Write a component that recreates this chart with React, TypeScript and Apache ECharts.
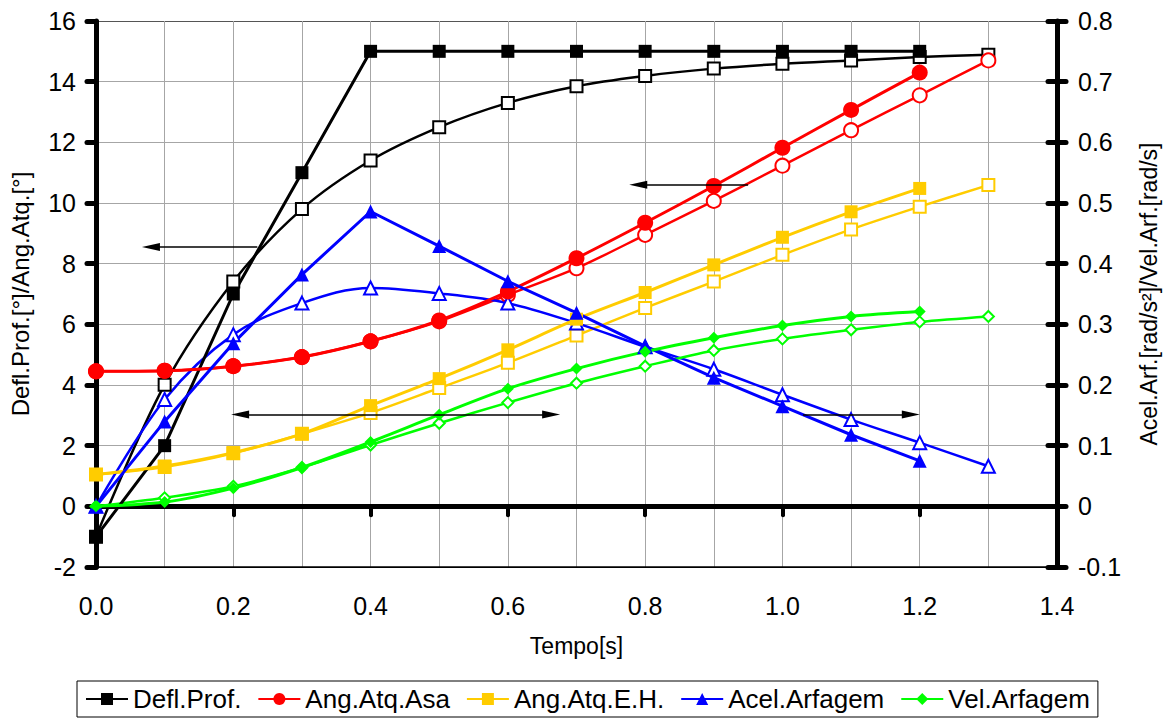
import React, { useEffect, useRef } from "react";
import * as echarts from "echarts";

// Time axis (s)
const time1 = [0, 0.1, 0.2, 0.3, 0.4, 0.5, 0.6, 0.7, 0.8, 0.9, 1.0, 1.1, 1.2];
const time2 = [0, 0.1, 0.2, 0.3, 0.4, 0.5, 0.6, 0.7, 0.8, 0.9, 1.0, 1.1, 1.2, 1.3];

// Case 1 (filled markers)
const deflProf1 = [-1, 2, 7, 11, 15, 15, 15, 15, 15, 15, 15, 15, 15];
const angAsa1 = [4.45, 4.47, 4.62, 4.92, 5.44, 6.13, 7.08, 8.18, 9.35, 10.56, 11.82, 13.07, 14.3];
const angEH1 = [1.05, 1.33, 1.77, 2.39, 3.32, 4.21, 5.16, 6.17, 7.05, 7.96, 8.87, 9.71, 10.48];
const acelArf1 = [0, 0.14, 0.269, 0.382, 0.486, 0.429, 0.371, 0.319, 0.264, 0.212, 0.165, 0.118, 0.075];
const velArf1 = [0, 0.007, 0.03, 0.064, 0.106, 0.151, 0.194, 0.227, 0.255, 0.278, 0.298, 0.313, 0.321];

// Case 2 (hollow markers)
const deflProf2 = [-1, 4.01, 7.41, 9.8, 11.4, 12.5, 13.3, 13.85, 14.19, 14.43, 14.59, 14.7, 14.81, 14.89];
const angAsa2 = [4.45, 4.47, 4.62, 4.92, 5.44, 6.1, 6.97, 7.85, 8.95, 10.07, 11.23, 12.4, 13.55, 14.7];
const angEH2 = [1.05, 1.3, 1.75, 2.39, 3.08, 3.9, 4.73, 5.63, 6.54, 7.41, 8.29, 9.13, 9.88, 10.59];
const acelArf2 = [0, 0.176, 0.283, 0.335, 0.36, 0.351, 0.335, 0.302, 0.263, 0.226, 0.184, 0.143, 0.105, 0.066];
const velArf2 = [0, 0.014, 0.033, 0.064, 0.101, 0.137, 0.171, 0.203, 0.231, 0.257, 0.276, 0.291, 0.304, 0.313];

const legendNames = ["Defl.Prof.", "Ang.Atq.Asa", "Ang.Atq.E.H.", "Acel.Arfagem", "Vel.Arfagem"];

// Annotation arrows in data coords of the left axis: [xFrom, xTo, y, both-heads]
const arrows: [number, number, number, boolean][] = [
  [0.235, 0.08, 8.55, false],
  [0.95, 0.79, 10.6, false],
  [0.21, 0.663, 3.03, true],
  [1.03, 1.187, 3.03, false],
];

const FONT = "Liberation Sans, Arial, sans-serif";

const pairs = (xs: number[], ys: number[]) => ys.map((y, i) => [xs[i], y]);

export default function App() {
  const ref = useRef<HTMLDivElement>(null);
  useEffect(() => {
    if (!ref.current) return;
    const chart = echarts.init(ref.current, undefined, { renderer: "svg" });

    const gridColor = "#a6a6a6";
    const ySplitColors = ["#000", gridColor, gridColor, gridColor, gridColor, gridColor, gridColor, gridColor, gridColor, "#555"];

    const mkSeries = (
      name: string,
      xs: number[],
      ys: number[],
      color: string,
      symbol: string,
      size: number,
      yIdx: number,
      smooth: boolean | number,
      hollow: boolean,
      extra: any = {}
    ) => ({
      type: "line",
      name,
      data: pairs(xs, ys),
      xAxisIndex: 0,
      yAxisIndex: yIdx,
      symbol: hollow ? "empty" + symbol[0].toUpperCase() + symbol.slice(1) : symbol,
      symbolSize: size,
      smooth,
      showSymbol: true,
      lineStyle: { color, width: hollow ? 2.5 : 3 },
      itemStyle: { color, borderColor: color, borderWidth: hollow ? 1.5 : 0 },
      emphasis: { disabled: true },
      ...extra,
    });

    const markLine = {
      silent: true,
      symbol: ["none", "none"],
      label: { show: false },
      lineStyle: { color: "#000", width: 1.5, type: "solid" },
      itemStyle: { color: "#000" },
      emphasis: { disabled: true },
      data: arrows.map(([x1, x2, y, both]) => [
        both
          ? { coord: [x1, y], symbol: "triangle", symbolSize: [8, 18] }
          : { coord: [x1, y], symbol: "none" },
        { coord: [x2, y], symbol: "triangle", symbolSize: [8, 18] },
      ]),
    };

    const series: any[] = [
      mkSeries("Defl.Prof. 2", time2, deflProf2, "#000000", "rect", 12, 0, 0.35, true, { markLine }),
      mkSeries("Ang.Atq.Asa 2", time2, angAsa2, "#ff0000", "circle", 14, 0, 0.3, true),
      mkSeries("Ang.Atq.E.H. 2", time2, angEH2, "#ffcc00", "rect", 12, 0, 0.3, true),
      mkSeries("Acel.Arfagem 2", time2, acelArf2, "#0000ff", "triangle", 13, 1, 0.35, true),
      mkSeries("Vel.Arfagem 2", time2, velArf2, "#00ff00", "diamond", 11, 1, 0.3, true),
      mkSeries("Defl.Prof.", time1, deflProf1, "#000000", "rect", 13, 0, false, false),
      mkSeries("Ang.Atq.Asa", time1, angAsa1, "#ff0000", "circle", 16, 0, 0.3, false),
      mkSeries("Ang.Atq.E.H.", time1, angEH1, "#ffcc00", "rect", 13, 0, 0.3, false),
      mkSeries("Acel.Arfagem", time1, acelArf1, "#0000ff", "triangle", 14, 1, false, false),
      mkSeries("Vel.Arfagem", time1, velArf1, "#00ff00", "diamond", 12, 1, 0.3, false),
    ];

    chart.setOption({
      animation: false,
      backgroundColor: "#ffffff",
      textStyle: { fontFamily: FONT },
      grid: { left: 96, right: 112, top: 21, bottom: 153, containLabel: false },
      legend: {
        data: legendNames,
        left: 77,
        top: 681,
        padding: [5, 8],
        itemGap: 16,
        itemWidth: 42,
        itemHeight: 15,
        borderColor: "#000",
        borderWidth: 1,
        textStyle: { fontSize: 26, color: "#000", fontFamily: FONT },
        selectedMode: false,
      },
      xAxis: [
        {
          type: "value",
          min: 0,
          max: 1.4,
          interval: 0.2,
          position: "bottom",
          axisLine: { show: true, onZero: true, onZeroAxisIndex: 0, lineStyle: { color: "#000", width: 5 } },
          axisTick: { show: true, inside: false, length: 9, lineStyle: { color: "#000", width: 4, cap: "round" } },
          axisLabel: { show: false },
          splitLine: { show: false },
        },
        {
          type: "value",
          min: 0,
          max: 1.4,
          interval: 0.2,
          position: "bottom",
          name: "Tempo[s]",
          nameLocation: "middle",
          nameGap: 67,
          nameTextStyle: { fontSize: 23, color: "#000", fontFamily: FONT },
          axisLine: { show: true, onZero: false, lineStyle: { color: "#000", width: 1.5 } },
          axisTick: { show: false },
          axisLabel: {
            show: true,
            margin: 26,
            fontSize: 25,
            color: "#000",
            fontFamily: FONT,
            formatter: (v: number) => v.toFixed(1),
          },
          splitLine: { show: true, lineStyle: { color: gridColor, width: 1 } },
          minorTick: { show: false, splitNumber: 2 },
          minorSplitLine: { show: true, lineStyle: { color: gridColor, width: 1 } },
        },
      ],
      yAxis: [
        {
          type: "value",
          min: -2,
          max: 16,
          interval: 2,
          position: "left",
          name: "Defl.Prof.[°]/Ang.Atq.[°]",
          nameLocation: "middle",
          nameRotate: 90,
          nameGap: 64,
          nameTextStyle: { fontSize: 24, color: "#000", fontFamily: FONT },
          axisLine: { show: true, onZero: false, lineStyle: { color: "#000", width: 5 } },
          axisTick: { show: true, inside: false, length: 9, lineStyle: { color: "#000", width: 5, cap: "round" } },
          axisLabel: {
            margin: 20,
            fontSize: 25,
            color: "#000",
            fontFamily: FONT,
            formatter: (v: number) => String(Math.round(v)),
          },
          splitLine: { show: true, lineStyle: { color: ySplitColors, width: 1 } },
        },
        {
          type: "value",
          min: -0.1,
          max: 0.8,
          interval: 0.1,
          position: "right",
          name: "Acel.Arf.[rad/s²]/Vel.Arf.[rad/s]",
          nameLocation: "middle",
          nameRotate: 90,
          nameGap: 80,
          nameTextStyle: { fontSize: 23, color: "#000", fontFamily: FONT },
          axisLine: { show: true, onZero: false, lineStyle: { color: "#000", width: 5 } },
          axisTick: { show: true, inside: false, length: 9, lineStyle: { color: "#000", width: 5, cap: "round" } },
          axisLabel: {
            margin: 21,
            fontSize: 25,
            color: "#000",
            fontFamily: FONT,
            formatter: (v: number) => (Math.abs(v) < 1e-9 ? "0" : v.toFixed(1)),
          },
          splitLine: { show: false },
        },
        {
          type: "value",
          min: -0.1,
          max: 0.8,
          interval: 0.1,
          position: "right",
          axisLine: { show: false, onZero: false },
          axisTick: { show: true, inside: true, length: 9, lineStyle: { color: "#000", width: 5, cap: "round" } },
          axisLabel: { show: false },
          splitLine: { show: false },
        },
      ],
      series,
    });

    return () => chart.dispose();
  }, []);

  return <div ref={ref} style={{ width: 1169, height: 720, position: "absolute", left: 0, top: 0 }} />;
}
